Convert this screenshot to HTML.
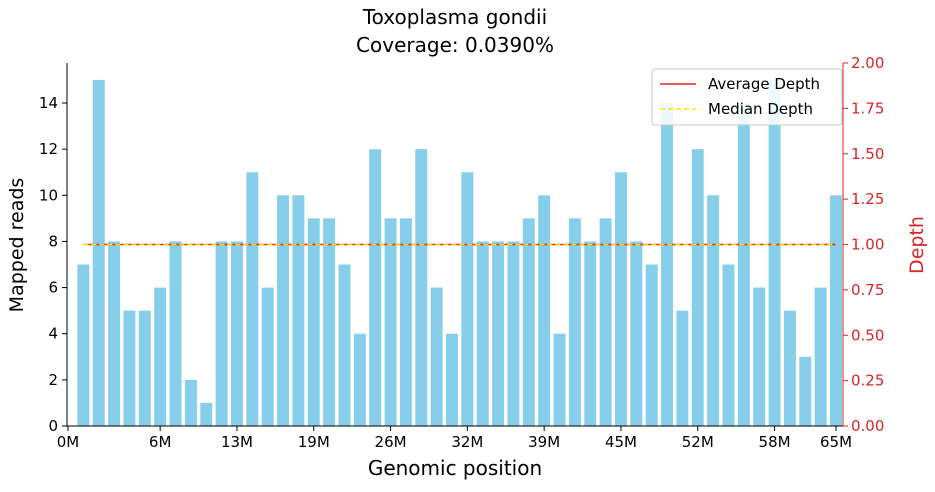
<!DOCTYPE html>
<html><head><meta charset="utf-8"><style>
body{margin:0;background:#fff;font-family:"Liberation Sans","DejaVu Sans",sans-serif}
svg text{font-family:"DejaVu Sans","Liberation Sans",sans-serif}
</style></head><body>
<svg id="c" width="935" height="487">
<text x="455" y="24" font-size="20" text-anchor="middle">Toxoplasma gondii</text>
<text x="455" y="52" font-size="20" text-anchor="middle">Coverage: 0.0390%</text>
<g id="bars"></g>
<g id="axes"></g>
<text transform="translate(23,245) rotate(-90)" font-size="19" text-anchor="middle">Mapped reads</text>
<text transform="translate(923,245) rotate(-90)" font-size="19" fill="#d62728" text-anchor="middle">Depth</text>
<text x="455" y="475" font-size="20" text-anchor="middle">Genomic position</text>
<g>
<rect x="652" y="69" width="190" height="56" rx="3" fill="#fff" fill-opacity="0.85" stroke="#ccc"/>
<line x1="660" y1="84" x2="696" y2="84" stroke="#d62728" stroke-width="1.5"/>
<text x="708" y="89" font-size="15">Average Depth</text>
<line x1="660" y1="109" x2="696" y2="109" stroke="#ffe600" stroke-width="1.5" stroke-dasharray="5,3"/>
<text x="708" y="114" font-size="15">Median Depth</text>
</g>
</svg>
<script>
const counts=[7,15,8,5,5,6,8,2,1,8,8,11,6,10,10,9,9,7,4,12,9,9,12,6,4,11,8,8,8,9,10,4,9,8,9,11,8,7,14,5,12,10,7,14,6,15,5,3,6,10];
const xTicks=["0M","6M","13M","19M","26M","32M","39M","45M","52M","58M","65M"];
const xTickM=[0,7.8,14.3,20.8,27.3,33.8,40.3,46.8,53.3,59.8,65];
const yTicks=[0,2,4,6,8,10,12,14];
const depthTicks=["0.00","0.25","0.50","0.75","1.00","1.25","1.50","1.75","2.00"];
const avgDepth=1.0, medianDepth=1.0;
const genomeM=65, binM=1.3;
const NS="http://www.w3.org/2000/svg";
const x0=68,x1=836,yb=426,yt=63;
const X=m=>x0+m/genomeM*(x1-x0);
const Y=v=>yb-v*23.07;
const Y2=d=>yb-d/2*(yb-yt);
function mk(t,a,p){const e=document.createElementNS(NS,t);for(const k in a)e.setAttribute(k,a[k]);(p||document.getElementById('axes')).appendChild(e);return e;}
const bars=document.getElementById('bars');
counts.forEach((v,i)=>{const c=X((i+1)*binM);const w=X(binM*0.78)-X(0);
const r=mk('rect',{x:c-w/2,y:Y(v),width:w,height:yb-Y(v),fill:'#87ceeb'},bars);

});
mk('line',{x1:67,y1:yt,x2:67,y2:yb,stroke:'#000'});
mk('line',{x1:67,y1:yb,x2:843,y2:yb,stroke:'#000'});
mk('line',{x1:843,y1:yt,x2:843,y2:yb,stroke:'#d62728'});
yTicks.forEach(v=>{mk('line',{x1:62,y1:Y(v),x2:67,y2:Y(v),stroke:'#000'});
const t=mk('text',{x:58,y:Y(v)+5,'font-size':15,'text-anchor':'end'});t.textContent=v;

});
depthTicks.forEach(d=>{const y=Y2(+d);mk('line',{x1:843,y1:y,x2:848,y2:y,stroke:'#d62728'});
const t=mk('text',{x:851,y:y+5,'font-size':15,fill:'#d62728'});t.textContent=d;

});
xTicks.forEach((s,i)=>{const x=X(xTickM[i]);mk('line',{x1:x,y1:yb,x2:x,y2:yb+5,stroke:'#000'});
const t=mk('text',{x:x,y:yb+21,'font-size':15,'text-anchor':'middle'});t.textContent=s;

});
const a=mk('line',{x1:X(binM),y1:Y2(avgDepth),x2:X(genomeM),y2:Y2(avgDepth),stroke:'#d62728','stroke-width':1.5});


const m=mk('line',{x1:X(binM),y1:Y2(medianDepth),x2:X(genomeM),y2:Y2(medianDepth),stroke:'#ffe600','stroke-width':1.5,'stroke-dasharray':'5,3'});


</script>
</body></html>
